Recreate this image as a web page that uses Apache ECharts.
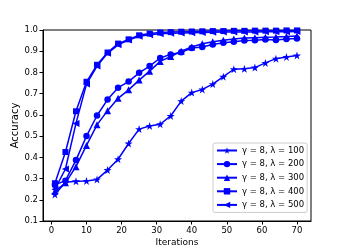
<!DOCTYPE html>
<html><head><meta charset="utf-8">
<script src="https://cdn.jsdelivr.net/npm/echarts@6/dist/echarts.min.js"></script>
<style>html,body{margin:0;padding:0;background:#fff}#c{width:345px;height:249px}</style>
</head><body><div id="c"></div>
<script>
const iterations = [1,4,7,10,13,16,19,22,25,28,31,34,37,40,43,46,49,52,55,58,61,64,67,70];
const seriesNames = ['γ = 8, λ = 100','γ = 8, λ = 200','γ = 8, λ = 300','γ = 8, λ = 400','γ = 8, λ = 500'];
const lam100 = [0.225,0.283,0.287,0.289,0.296,0.34,0.391,0.465,0.533,0.548,0.556,0.595,0.665,0.705,0.72,0.745,0.78,0.815,0.817,0.823,0.845,0.865,0.873,0.88];
const lam200 = [0.27,0.29,0.387,0.5,0.597,0.672,0.728,0.757,0.798,0.83,0.868,0.885,0.895,0.915,0.92,0.932,0.94,0.945,0.95,0.952,0.955,0.953,0.958,0.96];
const lam300 = [0.24,0.28,0.356,0.456,0.553,0.62,0.678,0.718,0.764,0.806,0.852,0.875,0.9,0.92,0.935,0.945,0.952,0.958,0.962,0.964,0.966,0.967,0.969,0.972];
const lam400 = [0.278,0.425,0.617,0.756,0.836,0.894,0.936,0.956,0.975,0.983,0.988,0.99,0.992,0.993,0.994,0.995,0.995,0.996,0.996,0.997,0.997,0.997,0.998,0.998];
const lam500 = [0.25,0.345,0.56,0.745,0.83,0.89,0.93,0.953,0.97,0.978,0.982,0.985,0.986,0.987,0.988,0.989,0.99,0.99,0.991,0.991,0.992,0.992,0.992,0.993];
const xTicks = [0,10,20,30,40,50,60,70];
const yTicks = [0.1,0.2,0.3,0.4,0.5,0.6,0.7,0.8,0.9,1.0];

const star = 'path://M50,0 L61.2,34.5 L97.6,34.5 L68.2,55.9 L79.4,90.5 L50,69.1 L20.6,90.5 L31.8,55.9 L2.4,34.5 L38.8,34.5 Z';
const allVals = [lam100, lam200, lam300, lam400, lam500];
const symbols = [star, 'circle', 'triangle', 'rect', 'triangle'];
const sizes = [8, 6.5, 7, 6, 7];
const rotates = [0, 0, 0, 0, 90];
const blue = '#0000ff';

const chart = echarts.init(document.getElementById('c'), null, {renderer: 'canvas'});
chart.setOption({
  animation: false,
  textStyle: {fontFamily: 'DejaVu Sans'},
  grid: {left: 43, right: 34, top: 30, bottom: 28, outerBoundsMode: 'none', containLabel: false,
    show: true, borderColor: '#000', borderWidth: 1, backgroundColor: 'transparent'},
  xAxis: {
    type: 'value', min: -2.4, max: 74,
    name: 'Iterations', nameLocation: 'middle', nameGap: 17.5, nameMoveOverlap: false,
    nameTextStyle: {fontSize: 9, color: '#000'},
    axisLine: {show: true, onZero: false, lineStyle: {color: '#000', width: 1}},
    axisTick: {show: true, inside: false, length: 3.5, lineStyle: {color: '#000'}, customValues: xTicks},
    axisLabel: {fontSize: 8.5, color: '#000', margin: 5, customValues: xTicks, formatter: v => String(v)},
    splitLine: {show: false}
  },
  yAxis: {
    type: 'value', min: yTicks[0], max: yTicks[yTicks.length-1], interval: 0.1,
    name: 'Accuracy', nameLocation: 'middle', nameGap: 23, nameMoveOverlap: false,
    nameTextStyle: {fontSize: 10, color: '#000'},
    axisLine: {show: true, onZero: false, lineStyle: {color: '#000', width: 1}},
    axisTick: {show: true, inside: false, length: 3.5, lineStyle: {color: '#000'}},
    axisLabel: {fontSize: 8.5, color: '#000', margin: 5, formatter: v => v.toFixed(1)},
    splitLine: {show: false}
  },
  legend: {
    orient: 'vertical', left: 213, top: 143,
    data: seriesNames,
    itemWidth: 20, itemHeight: 8, itemGap: 4.6,
    padding: [3, 3, 3, 3],
    borderColor: '#cccccc', borderWidth: 1, borderRadius: 2, backgroundColor: 'rgba(255,255,255,0.8)',
    textStyle: {fontSize: 8.5, color: '#000', fontFamily: 'DejaVu Sans'}
  },
  series: allVals.map((vals, i) => ({
    name: seriesNames[i], type: 'line',
    data: iterations.map((x, j) => [x, vals[j]]),
    symbol: symbols[i], symbolSize: sizes[i], symbolRotate: rotates[i], showAllSymbol: true,
    lineStyle: {color: blue, width: 1.5},
    itemStyle: {color: blue, borderWidth: 0},
    z: 2 + i
  }))
});
</script></body></html>
